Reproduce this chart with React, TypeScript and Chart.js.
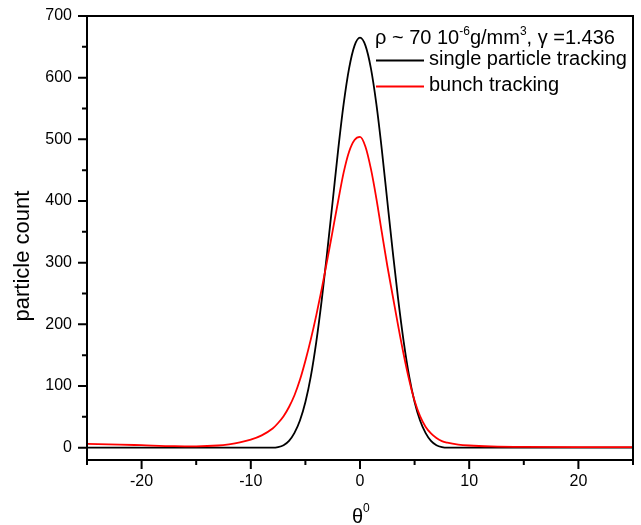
import React, { useEffect, useRef } from 'react';
import { Chart, registerables } from 'chart.js';

Chart.register(...registerables);

// ---- data ----
const thetaBlack = [-25, -20, -15, -10, -8, -7.5, -7, -6.5, -6, -5.5, -5, -4.5, -4, -3.5, -3, -2.5, -2, -1.5, -1, -0.5, 0, 0.5, 1, 1.5, 2, 2.5, 3, 3.5, 4, 4.5, 5, 5.5, 6, 6.5, 7, 7.5, 8, 10, 15, 20, 25];
const countBlack = [0, 0, 0, 0, 0, 1, 4, 11, 24, 44, 74, 116, 172, 240, 318, 400, 483, 557, 615, 652, 665, 652, 615, 557, 483, 400, 318, 240, 172, 116, 74, 44, 24, 11, 4, 1, 0, 0, 0, 0, 0];

const thetaRed = [-25, -22, -20, -17, -15, -13, -12, -11, -10, -9, -8, -7.5, -7, -6.5, -6, -5.5, -5, -4.5, -4, -3.5, -3, -2.5, -2, -1.5, -1, -0.5, 0, 0.5, 1, 1.5, 2, 2.5, 3, 3.5, 4, 4.5, 5, 5.5, 6, 6.5, 7, 7.5, 8, 9, 10, 12, 15, 20, 25];
const countRed = [6, 5, 4, 2.5, 2.2, 3.5, 5.5, 8.5, 13, 20, 31, 40, 51, 66, 85, 110, 141, 176, 215, 258, 304, 352, 400, 446, 480, 499, 504, 488, 452, 404, 349, 295, 246, 197, 151, 110, 76, 51, 34, 23, 15.5, 10.5, 8, 5, 3.5, 2, 1.2, 1, 1];

const xMajorTicks = [-20, -10, 0, 10, 20];
const xMinorTicks = [-25, -15, -5, 5, 15, 25];
const yMajorTicks = [0, 100, 200, 300, 400, 500, 600, 700];
const yMinorTicks = [50, 150, 250, 350, 450, 550, 650];

const seriesNames = ['single particle tracking', 'bunch tracking'];
const seriesColors = ['#000000', '#ff0000'];
const yTitle = 'particle count';

const FONT = "'Liberation Sans', Arial, sans-serif";

type Seg = { t: string; sup?: boolean };

function drawRich(ctx: CanvasRenderingContext2D, x: number, y: number, segs: Seg[], size: number, supSize: number, raise: number) {
  let cx = x;
  for (const s of segs) {
    ctx.font = `${s.sup ? supSize : size}px ${FONT}`;
    ctx.fillText(s.t, cx, s.sup ? y - raise : y);
    cx += ctx.measureText(s.t).width;
  }
}

const decorPlugin = {
  id: 'decor',
  afterDraw(chart: any) {
    const { ctx, chartArea: ca, scales } = chart;
    const xs = scales.x;
    const ys = scales.y;
    ctx.save();
    ctx.strokeStyle = '#000';
    ctx.fillStyle = '#000';
    ctx.lineWidth = 2;
    ctx.strokeRect(ca.left, ca.top, ca.right - ca.left, ca.bottom - ca.top);
    ctx.beginPath();
    for (const v of yMajorTicks) {
      const p = ys.getPixelForValue(v);
      ctx.moveTo(ca.left, p); ctx.lineTo(ca.left - 9, p);
    }
    for (const v of yMinorTicks) {
      const p = ys.getPixelForValue(v);
      ctx.moveTo(ca.left, p); ctx.lineTo(ca.left - 5, p);
    }
    for (const v of xMajorTicks) {
      const p = xs.getPixelForValue(v);
      ctx.moveTo(p, ca.bottom); ctx.lineTo(p, ca.bottom + 9);
    }
    for (const v of xMinorTicks) {
      const p = xs.getPixelForValue(v);
      ctx.moveTo(p, ca.bottom); ctx.lineTo(p, ca.bottom + 5);
    }
    ctx.stroke();

    // y title
    ctx.save();
    ctx.translate(29, 256);
    ctx.rotate(-Math.PI / 2);
    ctx.font = `22px ${FONT}`;
    ctx.textAlign = 'center';
    ctx.textBaseline = 'alphabetic';
    ctx.fillText(yTitle, 0, 0);
    ctx.restore();

    // x title theta^0
    ctx.textAlign = 'left';
    ctx.textBaseline = 'alphabetic';
    const xc = xs.getPixelForValue(0);
    drawRich(ctx, xc - 8, 523, [{ t: 'θ' }, { t: '0', sup: true }], 20, 12, 11);

    // legend
    const lx = 375;
    drawRich(ctx, lx, 44, [
      { t: 'ρ ~ 70 10' }, { t: '-6', sup: true }, { t: 'g/mm' }, { t: '3', sup: true }, { t: ', γ =1.436' },
    ], 20, 12, 9);
    const rows = [65, 91];
    rows.forEach((b, i) => {
      ctx.strokeStyle = seriesColors[i];
      ctx.lineWidth = 1.8;
      ctx.beginPath();
      ctx.moveTo(376, b - 4.5);
      ctx.lineTo(424, b - 4.5);
      ctx.stroke();
      ctx.font = `20px ${FONT}`;
      ctx.fillStyle = '#000';
      ctx.fillText(seriesNames[i], 429, b);
    });
    ctx.restore();
  },
};

export default function App() {
  const ref = useRef<HTMLCanvasElement>(null);
  useEffect(() => {
    const chart = new Chart(ref.current as HTMLCanvasElement, {
      type: 'line',
      data: {
        datasets: [
          {
            label: seriesNames[0],
            data: thetaBlack.map((x, i) => ({ x, y: countBlack[i] })),
            borderColor: seriesColors[0],
            borderWidth: 1.8,
            pointRadius: 0,
            cubicInterpolationMode: 'monotone',
            fill: false,
            order: 1,
          },
          {
            label: seriesNames[1],
            data: thetaRed.map((x, i) => ({ x, y: countRed[i] })),
            borderColor: seriesColors[1],
            borderWidth: 1.8,
            pointRadius: 0,
            cubicInterpolationMode: 'monotone',
            fill: false,
            order: 0,
          },
        ],
      },
      options: {
        animation: false,
        responsive: false,
        devicePixelRatio: 1,
        layout: { padding: { left: 0, right: 8, top: 16, bottom: 0 } },
        plugins: { legend: { display: false }, tooltip: { enabled: false } },
        scales: {
          x: {
            type: 'linear',
            min: -25,
            max: 25,
            grid: { display: true, drawOnChartArea: false, drawTicks: true, tickLength: 12, tickColor: 'rgba(0,0,0,0)' },
            border: { display: false },
            afterBuildTicks: (s: any) => { s.ticks = xMajorTicks.map((v) => ({ value: v })); },
            ticks: {
              autoSkip: false,
              maxRotation: 0,
              padding: 0,
              color: '#000',
              font: { family: FONT, size: 16 },
            },
            afterFit: (s: any) => { s.height = 65; },
          },
          y: {
            type: 'linear',
            min: -20,
            max: 700,
            grid: { display: true, drawOnChartArea: false, drawTicks: true, tickLength: 15, tickColor: 'rgba(0,0,0,0)' },
            border: { display: false },
            afterBuildTicks: (s: any) => { s.ticks = yMajorTicks.map((v) => ({ value: v })); },
            ticks: {
              autoSkip: false,
              padding: 0,
              color: '#000',
              font: { family: FONT, size: 16 },
            },
            afterFit: (s: any) => { s.width = 87; },
          },
        },
      } as any,
      plugins: [decorPlugin],
    });
    return () => chart.destroy();
  }, []);
  return (
    <div style={{ position: 'absolute', left: 0, top: 0, width: 641, height: 525, background: '#fff' }}>
      <canvas ref={ref} width={641} height={525} style={{ display: 'block', width: 641, height: 525 }} />
    </div>
  );
}
